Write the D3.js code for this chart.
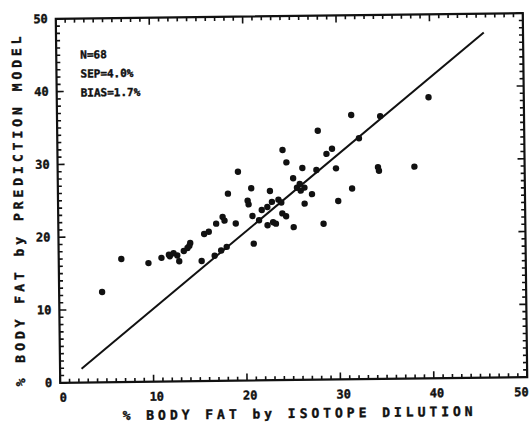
<!DOCTYPE html>
<html>
<head>
<meta charset="utf-8">
<script src="https://cdn.jsdelivr.net/npm/d3@7"></script>
<style>
  body { margin: 0; background: #fff; }
  text { font-family: "DejaVu Sans Mono", monospace; font-weight: bold; fill: #111; stroke: #111; stroke-width: 0.4; }
</style>
</head>
<body>
<div id="chart"></div>
<script>
// isotope dilution (x) vs prediction model (y), % body fat
const isotope = [4.6, 6.7, 9.6, 11.0, 11.8, 11.9, 12.7, 12.9, 13.4, 13.8, 14.1, 15.3, 15.6, 16.1,
  16.9, 17.6, 17.8, 16.7, 17.4, 18.2, 19.0, 19.3, 20.3, 20.4, 20.7, 20.9, 20.8, 22.7, 22.4, 23.0,
  23.3, 21.8, 22.4, 22.9, 23.6, 24.0, 24.4, 24.1, 24.5, 25.2, 25.2, 25.6, 26.2, 26.4, 26.4, 27.2,
  27.7, 27.9, 28.4, 28.8, 29.4, 29.8, 30.0, 31.5, 31.5, 32.3, 34.3, 34.4, 34.6, 38.2, 39.8, 23.9,
  25.9, 12.3, 21.5, 26.0, 18.0, 14.0];
const predicted = [12.4, 16.9, 16.3, 17.0, 17.4, 17.2, 17.3, 16.5, 17.9, 18.3, 19.0, 16.5, 20.2, 20.5,
  21.6, 22.5, 22.0, 17.2, 17.9, 25.7, 21.6, 28.7, 24.7, 24.2, 26.4, 18.8, 22.6, 26.0, 21.3, 21.7,
  21.5, 23.4, 23.8, 24.5, 24.8, 22.9, 22.5, 31.6, 29.9, 21.0, 27.7, 26.4, 29.1, 26.4, 24.2, 25.5,
  28.8, 34.2, 21.4, 31.0, 31.7, 29.0, 24.5, 26.2, 36.3, 33.1, 29.1, 28.6, 36.1, 29.1, 38.6, 24.4,
  26.9, 17.6, 22.0, 26.0, 18.4, 18.6];

// fitted line end points
const lineX = [2.3, 45.8];
const lineY = [1.9, 47.4];

const xTicks = [0, 10, 20, 30, 40, 50];
const yTicks = [0, 10, 20, 30, 40, 50];
const stats = ["N=68", "SEP=4.0%", "BIAS=1.7%"];

const width = 532;
const height = 422;
const margin = { top: 16, right: 7, bottom: 42, left: 58 };

const svg = d3.select("#chart")
  .append("svg")
  .attr("width", width)
  .attr("height", height);

// the scanned page is a little tilted
const g = svg.append("g")
  .attr("transform", "rotate(-0.7, 291, 198)");

const x = d3.scaleLinear()
  .domain([0, 50])
  .range([margin.left, width - margin.right]);

const y = d3.scaleLinear()
  .domain([0, 50])
  .range([height - margin.bottom, margin.top]);

// minor ticks every unit, inward on all four sides
const minor = d3.range(0, 51);
function tickLen(v) { return v % 10 === 0 ? 7 : 4; }

g.append("g").selectAll("line")
  .data(minor)
  .join("line")
    .attr("x1", d => x(d)).attr("x2", d => x(d))
    .attr("y1", y(0)).attr("y2", d => y(0) - tickLen(d));
g.append("g").selectAll("line")
  .data(minor)
  .join("line")
    .attr("x1", d => x(d)).attr("x2", d => x(d))
    .attr("y1", y(50)).attr("y2", d => y(50) + tickLen(d));
g.append("g").selectAll("line")
  .data(minor)
  .join("line")
    .attr("y1", d => y(d)).attr("y2", d => y(d))
    .attr("x1", x(0)).attr("x2", d => x(0) + tickLen(d));
g.append("g").selectAll("line")
  .data(minor)
  .join("line")
    .attr("y1", d => y(d)).attr("y2", d => y(d))
    .attr("x1", x(50)).attr("x2", d => x(50) - tickLen(d));
g.selectAll("line").attr("stroke", "#111").attr("stroke-width", 1.6);

// frame
g.append("rect")
  .attr("x", x(0))
  .attr("y", y(50))
  .attr("width", x(50) - x(0))
  .attr("height", y(0) - y(50))
  .attr("fill", "none")
  .attr("stroke", "#111")
  .attr("stroke-width", 2.2);

// tick labels
g.append("g").selectAll("text")
  .data(xTicks)
  .join("text")
    .attr("x", d => d === 50 ? x(d) - 6 : x(d) + 3)
    .attr("y", y(0) + 19)
    .attr("text-anchor", "middle")
    .attr("font-size", 12)
    .text(d => d);

g.append("g").selectAll("text")
  .data(yTicks)
  .join("text")
    .attr("x", x(0) - 8)
    .attr("y", d => y(d) + 4)
    .attr("text-anchor", "end")
    .attr("font-size", 12)
    .text(d => d);

// axis titles
g.append("text")
  .attr("x", 295)
  .attr("y", 418)
  .attr("text-anchor", "middle")
  .attr("font-size", 13)
  .attr("textLength", 350)
  .attr("lengthAdjust", "spacing")
  .text("% BODY FAT by ISOTOPE DILUTION");

g.append("text")
  .attr("transform", "translate(23, 208) rotate(-90)")
  .attr("text-anchor", "middle")
  .attr("font-size", 13)
  .attr("textLength", 350)
  .attr("lengthAdjust", "spacing")
  .text("% BODY FAT by PREDICTION MODEL");

// stats box
g.append("g").selectAll("text")
  .data(stats)
  .join("text")
    .attr("x", 82)
    .attr("y", (d, i) => 56 + i * 19)
    .attr("font-size", 11)
    .text(d => d);

// fitted line
g.append("line")
  .attr("x1", x(lineX[0])).attr("y1", y(lineY[0]))
  .attr("x2", x(lineX[1])).attr("y2", y(lineY[1]))
  .attr("stroke", "#111")
  .attr("stroke-width", 2);

// subjects
g.append("g")
  .attr("fill", "#111")
  .selectAll("circle")
  .data(d3.range(isotope.length))
  .join("circle")
    .attr("cx", i => x(isotope[i]))
    .attr("cy", i => y(predicted[i]))
    .attr("r", 3.2);
</script>
</body>
</html>
